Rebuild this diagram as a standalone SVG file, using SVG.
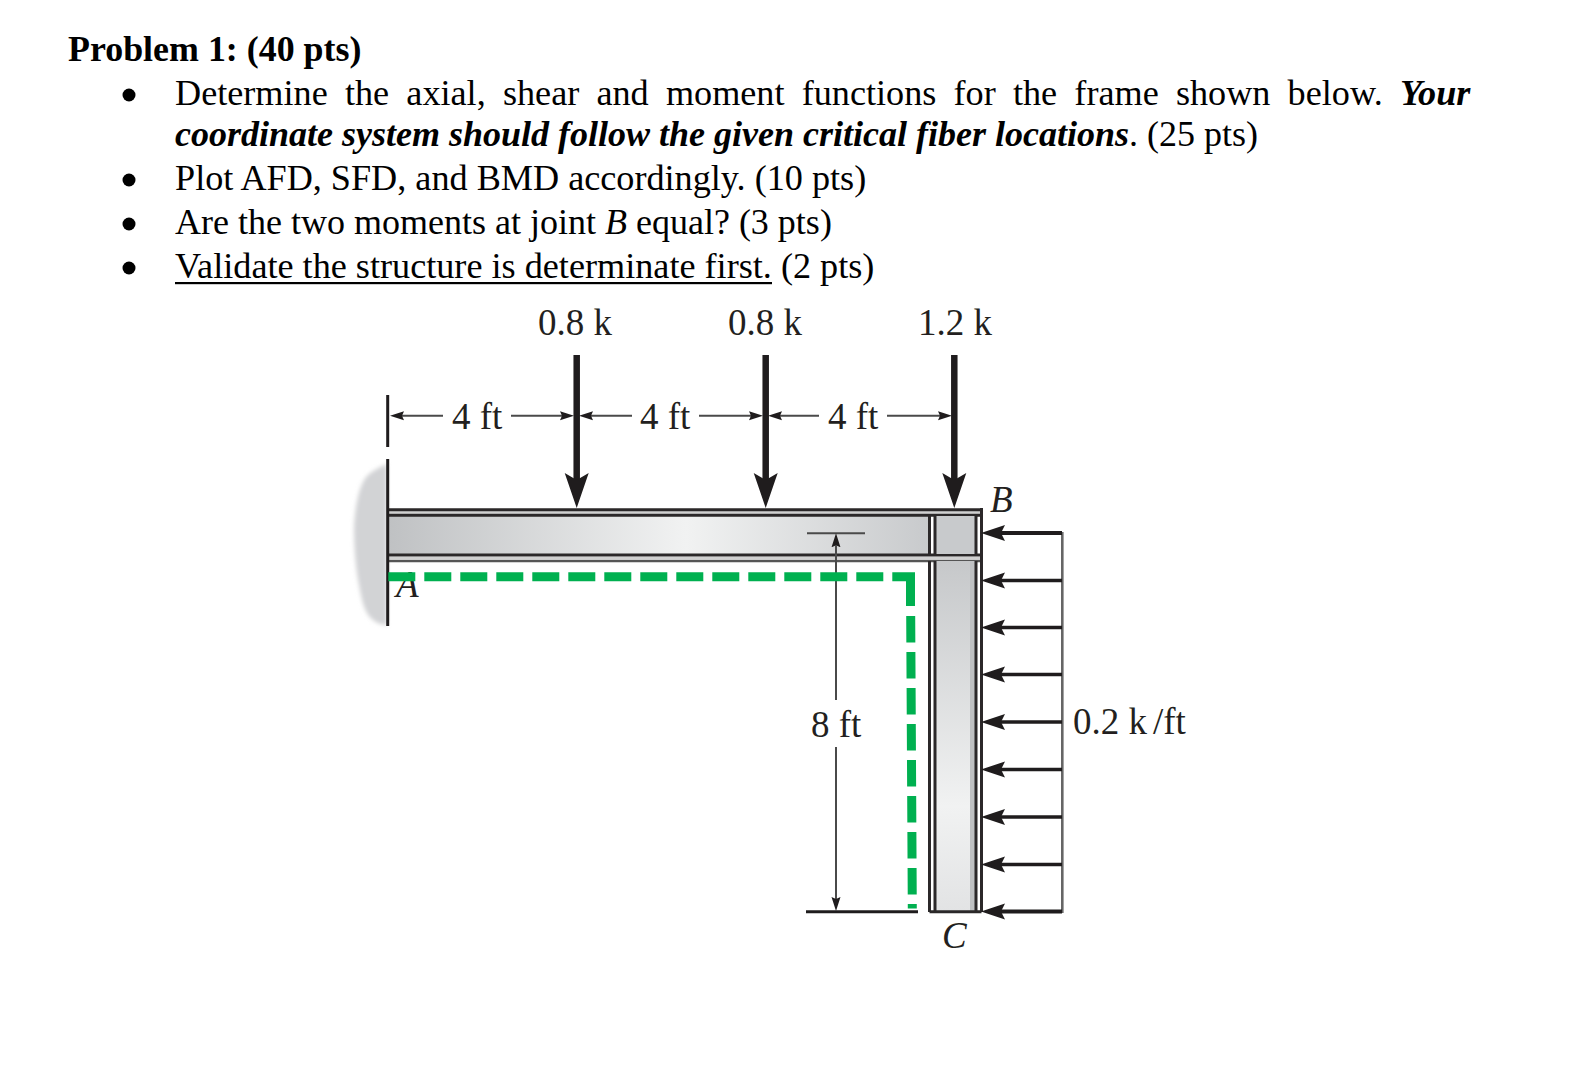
<svg xmlns="http://www.w3.org/2000/svg" width="1574" height="1074" viewBox="0 0 1574 1074">
<style>
.t{font-family:"Liberation Serif","Times New Roman",serif;font-size:36.2px;fill:#000}
.l{font-family:"Liberation Serif","Times New Roman",serif;font-size:37px;fill:#231f20}
.i{font-style:italic}
.f{stroke:#1f1c1d;stroke-width:6.5;fill:none}
.q{stroke:#1f1c1d;stroke-width:3.6;fill:none}
.d{stroke:#4a4a4a;stroke-width:2;fill:none}
.k{stroke:#2b2829;stroke-width:3;fill:none}
.g{stroke:#00b050;stroke-width:9;fill:none}
</style>
<defs>
<linearGradient id="beamFill" x1="387" x2="930" y1="0" y2="0" gradientUnits="userSpaceOnUse"><stop offset="0" stop-color="#bfc1c3"/><stop offset="0.55" stop-color="#f1f2f2"/><stop offset="1" stop-color="#c8cacc"/></linearGradient>
<linearGradient id="colFill" x1="0" x2="0" y1="560" y2="912" gradientUnits="userSpaceOnUse"><stop offset="0" stop-color="#c6c8ca"/><stop offset="0.7" stop-color="#f1f2f2"/><stop offset="1" stop-color="#e2e3e4"/></linearGradient>
<filter id="soft" x="-20%" y="-5%" width="140%" height="110%"><feGaussianBlur stdDeviation="2"/></filter>
<marker id="fh" markerUnits="userSpaceOnUse" viewBox="0 -13 36 26" markerWidth="36" markerHeight="26" refX="7" refY="0" orient="auto"><path d="M0,-12 L35,0 L0,12 L7,0Z" fill="#1f1c1d"/></marker>
<marker id="qh" markerUnits="userSpaceOnUse" viewBox="0 -9 25 18" markerWidth="25" markerHeight="18" refX="4" refY="0" orient="auto"><path d="M0,-8 L24,0 L0,8 L4,0Z" fill="#1f1c1d"/></marker>
<marker id="dh" markerUnits="userSpaceOnUse" viewBox="0 -5 15 10" markerWidth="15" markerHeight="10" refX="2" refY="0" orient="auto"><path d="M0,-4.5 L14,0 L0,4.5 L2,0Z" fill="#1f1c1d"/></marker>
</defs>
<rect width="1574" height="1074" fill="#fff"/>
<g id="problem-text">
<text class="t" x="68" y="61" font-weight="bold" style="font-size:35.9px">Problem 1: (40 pts)</text>
<circle cx="129" cy="95" r="6.5"/><circle cx="129" cy="180" r="6.5"/><circle cx="129" cy="224" r="6.5"/><circle cx="129" cy="268" r="6.5"/>
<text class="t" x="175" y="105" word-spacing="8.15">Determine the axial, shear and moment functions for the frame shown below. <tspan font-weight="bold" font-style="italic">Your</tspan></text>
<text class="t" x="175" y="146" style="font-size:36px"><tspan font-weight="bold" font-style="italic">coordinate system should follow the given critical fiber locations</tspan>. (25 pts)</text>
<text class="t" x="175" y="190">Plot AFD, SFD, and BMD accordingly. (10 pts)</text>
<text class="t" x="175" y="234" style="font-size:36px">Are the two moments at joint <tspan font-style="italic">B</tspan> equal? (3 pts)</text>
<text class="t" x="175" y="278">Validate the structure is determinate first. (2 pts)</text>
<rect x="175" y="282" width="597" height="2.2"/>
</g>
<g id="wall-A">
<path d="M387,464 C380,467 374,470 368,475 C360,482 355,505 354,527 C354,550 356,570 359,585 C362,602 365,614 373,620 C378,624 383,625 387,625Z" fill="#d2d3d5" filter="url(#soft)"/>
</g>
<g id="beam-AB">
<rect x="388" y="515" width="542" height="40" fill="url(#beamFill)"/>
<path d="M387,512.4H981M387,558H981" stroke="#d0d0d0" stroke-width="2.6"/>
<path d="M388,509.8H981M388,515.3H981M388,555H981" class="k"/>
<path d="M388,561H981" stroke="#555" stroke-width="2.4"/>
<path d="M387.7,395V447M387.7,459V626" stroke="#1f1c1d" stroke-width="3" fill="none"/>
</g>
<g id="column-BC">
<rect x="935" y="516" width="41" height="38" fill="#c8cacc"/>
<rect x="935" y="561" width="41" height="351" fill="url(#colFill)"/>
<rect x="970" y="561" width="6" height="351" fill="#bfc1c3"/>
<path d="M929.5,515V555M935,515V555M976,515V555M981.5,508V561" class="k"/>
<path d="M929.5,561V912M935,561V912M976,561V912M981.5,561V912M929.5,911.8H981.5" class="k"/>
</g>
<g id="labels">
<text class="l" x="538" y="335">0.8 k</text>
<text class="l" x="728" y="335">0.8 k</text>
<text class="l" x="918" y="335">1.2 k</text>
<text class="l" x="452" y="429">4 ft</text>
<text class="l" x="640" y="429">4 ft</text>
<text class="l" x="828" y="429">4 ft</text>
<text class="l" x="811" y="737">8 ft</text>
<text class="l" x="1073" y="734">0.2 k<tspan x="1153">/ft</tspan></text>
<text class="l i" x="396" y="597">A</text>
<text class="l i" x="990" y="512">B</text>
<text class="l i" x="942" y="948">C</text>
</g>
<g id="connectors">
<line class="f" x1="576.7" y1="355" x2="576.7" y2="480" marker-end="url(#fh)"/>
<line class="f" x1="765.7" y1="355" x2="765.7" y2="480" marker-end="url(#fh)"/>
<line class="f" x1="954.3" y1="355" x2="954.3" y2="480" marker-end="url(#fh)"/>
<line class="d" x1="443" y1="415.7" x2="402" y2="415.7" marker-end="url(#dh)"/>
<line class="d" x1="511" y1="415.7" x2="562" y2="415.7" marker-end="url(#dh)"/>
<line class="d" x1="632" y1="415.7" x2="591" y2="415.7" marker-end="url(#dh)"/>
<line class="d" x1="699" y1="415.7" x2="751" y2="415.7" marker-end="url(#dh)"/>
<line class="d" x1="819" y1="415.7" x2="780" y2="415.7" marker-end="url(#dh)"/>
<line class="d" x1="887" y1="415.7" x2="940" y2="415.7" marker-end="url(#dh)"/>
<line class="d" x1="807" y1="533.3" x2="865" y2="533.3"/>
<line class="d" x1="836" y1="700" x2="836" y2="545.3" marker-end="url(#dh)"/>
<line class="d" x1="836" y1="747" x2="836" y2="899" marker-end="url(#dh)"/>
<line x1="806" y1="911.7" x2="918" y2="911.7" stroke="#1f1c1d" stroke-width="3"/>
<line x1="1062.3" y1="532" x2="1062.3" y2="913" stroke="#666" stroke-width="2.6"/>
<line class="q" x1="1062" y1="533" x2="1001" y2="533" marker-end="url(#qh)" style="stroke-width:4.2"/>
<line class="q" x1="1062" y1="580.5" x2="1001" y2="580.5" marker-end="url(#qh)"/>
<line class="q" x1="1062" y1="627.5" x2="1001" y2="627.5" marker-end="url(#qh)"/>
<line class="q" x1="1062" y1="674.5" x2="1001" y2="674.5" marker-end="url(#qh)"/>
<line class="q" x1="1062" y1="722" x2="1001" y2="722" marker-end="url(#qh)"/>
<line class="q" x1="1062" y1="769.5" x2="1001" y2="769.5" marker-end="url(#qh)"/>
<line class="q" x1="1062" y1="817" x2="1001" y2="817" marker-end="url(#qh)"/>
<line class="q" x1="1062" y1="864.5" x2="1001" y2="864.5" marker-end="url(#qh)"/>
<line class="q" x1="1062" y1="911.5" x2="1001" y2="911.5" marker-end="url(#qh)" style="stroke-width:4.2"/>
</g>
<g id="critical-fiber">
<line class="g" x1="388.3" y1="576.7" x2="892" y2="576.7" stroke-dasharray="27 9"/>
<path class="g" d="M892.3,576.7H910.5V606"/>
<line class="g" x1="910.7" y1="616" x2="912.3" y2="908.5" stroke-dasharray="26.5 9.5"/>
</g>
</svg>
